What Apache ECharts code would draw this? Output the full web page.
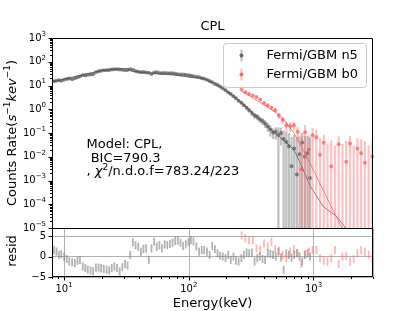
<!DOCTYPE html>
<html><head><meta charset="utf-8">
<script src="https://cdn.jsdelivr.net/npm/echarts@6/dist/echarts.min.js"></script>
<style>html,body{margin:0;padding:0;background:#fff}#c{width:415px;height:311px}</style>
</head><body><div id="c"></div>
<script>
// ---------- data ----------
const n5Energy = [8.3,8.7,9.1,9.5,10.0,10.5,11.0,11.6,12.2,12.8,13.4,14.1,14.8,15.5,16.3,17.1,18.0,18.9,19.8,20.8,21.9,23.0,24.1,25.3,26.6,27.9,29.3,30.8,32.3,33.9,35.6,37.4,39.3,41.3,43.3,45.5,47.8,50.2,52.7,55.3,58.1,61.0,64.0,67.2,70.6,74.1,77.8,81.7,85.8,90.1,94.6,99.3,104,109,115,121,127,133,140,147,154,162,170,178,187,197,207,217,228,239,251,264,277,291,305,321,337,354,371,390,409,430,451,474,498,523,549,576,605,635,667,700,735,772,811,851,894,938];
const n5Rate = [15.1,15.8,16.6,15.8,17.4,18.6,19.5,18.2,20.0,22.4,24.0,26.9,26.3,28.2,28.8,29.5,36.3,39.8,41.7,43.7,43.7,44.7,46.8,47.9,47.9,46.8,45.7,43.7,44.7,47.9,45.7,40.7,38.0,36.3,37.2,35.5,34.7,30.2,35.5,36.3,33.9,33.1,33.9,33.1,32.4,32.4,30.9,29.5,28.8,28.8,28.2,26.9,25.7,24.5,23.4,22.4,20.4,19.1,17.4,15.5,13.8,11.7,10.5,9.1,7.6,6.3,5.1,4.4,3.5,2.9,2.3,1.9,1.48,1.15,0.91,0.69,0.54,0.48,0.38,0.32,0.25,0.19,0.14,0.105,0.112,0.083,0.10,0.056,0.042,0.028,0.004,0.022,0.0018,0.0126,0.040,0.010,0.014,0.00126];
const n5Err = [0.8,0.8,0.8,0.8,0.9,0.9,0.9,0.9,1.0,1.0,1.1,1.2,1.2,1.3,1.3,1.3,1.4,1.5,1.5,1.5,1.5,1.5,1.5,1.5,1.5,1.5,1.5,1.5,1.5,1.5,1.5,1.4,1.4,1.4,1.4,1.4,1.4,1.3,1.3,1.3,1.3,1.3,1.3,1.3,1.3,1.3,1.3,1.3,1.3,1.3,1.3,1.3,1.2,1.2,1.1,1.1,1.0,1.0,0.9,0.9,0.8,0.75,0.7,0.65,0.6,0.55,0.5,0.45,0.4,0.36,0.32,0.28,0.25,0.22,0.19,0.17,0.15,0.13,0.11,0.1,0.09,0.08,0.07,0.05,0.06,0.09,0.07,0.07,0.07,0.07,0.065,0.06,0.065,0.06,0.06,0.065,0.06,0.065];
const n5Resid = [1.6,1.2,0.4,0.6,0,-0.6,-1.2,-1.4,-1.6,-1.0,-0.8,-2.4,-2.8,-3.2,-3.4,-3.6,-2.7,-2.7,-2.9,-3.05,-3.2,-3.4,-2.8,-2.4,-2.8,-3.6,-2.6,-1.85,-2.2,0.4,3.5,2.8,2.4,1.2,1.85,2.0,-0.8,2.0,3.6,2.4,2.8,2.0,3.0,2.8,3.1,3.4,3.8,3.9,3.4,2.6,3.0,3.5,4.0,3.7,2.5,1.2,1.6,1.6,1.2,0.4,2.6,1.8,0.8,0.2,0,-0.4,0.4,-0.8,0,-1.0,-1.2,-0.4,0.4,1.0,0.8,0.9,-1.2,-0.4,0,-0.6,-0.8,0.8,0.6,0.4,0,1.2,-0.2,-3.2,0.8,0.4,-0.3,0.4,0.8,0,-1.2,0.4,0.8,0];

const b0Energy = [265,284,304,326,349,374,401,429,460,493,528,566,606,650,696,746,799,856,917,983,1053,1128,1209,1295,1388,1487,1593,1707,1829,1960,2100,2250,2411,2583,2768,2966];
const b0Rate = [6.8,5.2,4.4,3.8,3.3,2.6,1.82,1.48,1.17,0.91,0.54,0.36,0.21,0.195,0.21,0.112,0.003,0.107,0.02,0.081,0.066,0.012,0.039,-0.01,0.004,-0.015,0.034,-0.005,0.0062,0.036,-0.01,0.022,0.014,0.0056,-0.01,0.01];
const b0Err = [0.5,0.45,0.4,0.35,0.3,0.3,0.25,0.22,0.2,0.17,0.15,0.13,0.1,0.09,0.08,0.07,0.07,0.11,0.06,0.085,0.07,0.05,0.045,0.045,0.045,0.045,0.04,0.04,0.04,0.04,0.04,0.04,0.04,0.04,0.04,0.04];
const b0Resid = [5.2,4.5,4.0,4.0,2.0,1.6,3.2,2.4,3.6,1.8,1.4,0.4,-0.4,1.2,1.8,0.8,-1.8,0.6,1.2,1.6,1.6,-0.4,-1.0,-1.2,-0.4,1.6,-1.8,0,0.2,-1.2,-0.6,0.8,1.6,1.2,0.4,-0.4];

const n5ModelEnergy = [8,10,12.5,15,20,25,30,33,34,40,50,60,80,100,130,160,190,230,280,340,400,500,575,700,786,946,1200,1540,2000];
const n5ModelRate = [14.5,18.5,24.5,31,42,49,51,50.5,41,36.5,32.5,30.5,27,22.5,19.8,12.3,7.3,3.5,1.45,0.55,0.26,0.09,0.05,0.019,0.0052,0.00055,0.00008,0.00003,0.000005];
const b0ModelEnergy = [265,310,400,500,600,700,830,1000,1200,1450,1690,1900];
const b0ModelRate = [5.9,3.5,1.55,0.72,0.29,0.095,0.019,0.0027,0.00038,0.00005,0.00001,0.000003];

const xMajorTicks = [10,100,1000];
const xMinorTicks = [8,9,20,30,40,50,60,70,80,90,200,300,400,500,600,700,800,900,2000,3000];
const yMajorExp = [-5,-4,-3,-2,-1,0,1,2,3];
const yMinorMant = [2,3,4,5,6,7,8,9];
const residTicks = [-5,0,5];

const labels = {
  title: 'CPL',
  n5: 'Fermi/GBM n5',
  b0: 'Fermi/GBM b0',
  xName: 'Energy(keV)',
  resid: 'resid'
};

// ---------- chart ----------
const FONT = 'DejaVu Sans';
const chart = echarts.init(document.getElementById('c'), null, {renderer:'canvas'});
const G0 = {left:52, top:38, width:321, height:190};
const G1 = {left:52, top:228, width:321, height:49};

function logLabel(v){
  const ex = Math.log10(v); const r = Math.round(ex);
  if (Math.abs(ex - r) > 1e-6) return '';
  const s = r < 0 ? '\u2212' + (-r) : String(r);
  return '{b|10}{s|' + s + '}';
}
const logRich = {
  b:{fontFamily:FONT, fontSize:10, lineHeight:15, color:'#000'},
  s:{fontFamily:FONT, fontSize:7, lineHeight:8, verticalAlign:'top', color:'#000'}
};

function errSeries(xi, yi, E, lo, hi, color, width, z){
  const data = E.map((e,i)=>[e, lo[i], hi[i]]);
  return {type:'custom', xAxisIndex:xi, yAxisIndex:yi, clip:true, silent:true, z,
    encode:{x:0, y:[1,2]}, data,
    renderItem(params, api){
      const a = api.coord([api.value(0), api.value(1)]);
      const b = api.coord([api.value(0), api.value(2)]);
      return {type:'line', shape:{x1:a[0],y1:a[1],x2:b[0],y2:b[1]}, style:{stroke:color, lineWidth:width}};
    }};
}
function tickSeries(xi, yi, data, dir){
  return {type:'custom', xAxisIndex:xi, yAxisIndex:yi, clip:false, silent:true, z:20,
    encode:{x:0, y:1}, data,
    renderItem(params, api){
      const p = api.coord([api.value(0), api.value(1)]);
      const L = api.value(2);
      let shape;
      if (dir === 'down') { const x = Math.round(p[0]) + 0.5; shape = {x1:x, y1:p[1], x2:x, y2:p[1]+L}; }
      else { const y = Math.round(p[1]) + 0.5; shape = {x1:p[0], y1:y, x2:p[0]-L, y2:y}; }
      return {type:'line', shape, style:{stroke:'#000', lineWidth:1}};
    }};
}

// bounds for error bars (log axis: lower bound kept positive so it clips at the axis floor)
const n5Lo = n5Rate.map((r,i)=>Math.max(r - n5Err[i], 1e-7));
const n5Hi = n5Rate.map((r,i)=>r + n5Err[i]);
const b0Lo = b0Rate.map((r,i)=>Math.max(r - b0Err[i], 1e-7));
const b0Hi = b0Rate.map((r,i)=>r + b0Err[i]);
const n5RLo = n5Resid.map(r=>r - 1), n5RHi = n5Resid.map(r=>r + 1);
const b0RLo = b0Resid.map(r=>r - 1), b0RHi = b0Resid.map(r=>r + 1);

const xTickData = xMajorTicks.map(v=>[v,-5,3.5]).concat(xMinorTicks.map(v=>[v,-5,2]));
const yTickData = [];
yMajorExp.forEach(ex=>{ yTickData.push([8, Math.pow(10,ex), 3.5]);
  if (ex < 3) yMinorMant.forEach(m=>yTickData.push([8, m*Math.pow(10,ex), 2])); });
const rTickData = residTicks.map(v=>[8, v, 3.5]);

const option = {
  animation:false,
  backgroundColor:'#fff',
  grid:[
    Object.assign({containLabel:false}, G0),
    Object.assign({containLabel:false}, G1)
  ],
  xAxis:[
    {gridIndex:0, type:'log', logBase:10, min:8, max:3000,
      axisLine:{show:false}, axisTick:{show:false}, axisLabel:{show:false}, splitLine:{show:false}},
    {gridIndex:1, type:'log', logBase:10, min:8, max:3000,
      axisLine:{show:false}, axisTick:{show:false}, splitLine:{show:true, lineStyle:{color:'#b0b0b0', width:1}},
      axisLabel:{show:true, margin:5, formatter:logLabel, rich:logRich}}
  ],
  yAxis:[
    {gridIndex:0, type:'log', logBase:10, min:1e-5, max:1e3,
      axisLine:{show:false}, axisTick:{show:false}, splitLine:{show:false},
      axisLabel:{show:true, margin:6, formatter:logLabel, rich:logRich}},
    {gridIndex:1, type:'value', min:-5, max:7, interval:5,
      axisLine:{show:false}, axisTick:{show:false},
      splitLine:{show:true, lineStyle:{color:'#b0b0b0', width:1}},
      axisLabel:{show:true, margin:6, fontFamily:FONT, fontSize:10, color:'#000',
        formatter:(v)=> (v===5?'5':v===0?'0':v===-5?'\u22125':'')}}
  ],
  series:[
    errSeries(0,0,n5Energy,n5Lo,n5Hi,'rgba(128,128,128,0.5)',2.2,2),
    {type:'line', xAxisIndex:0, yAxisIndex:0, showSymbol:false, silent:true, z:3, clip:true,
      data:n5ModelEnergy.map((e,i)=>[e,n5ModelRate[i]]), lineStyle:{color:'rgba(90,90,90,0.75)', width:1}},
    {type:'scatter', xAxisIndex:0, yAxisIndex:0, silent:true, z:4, symbol:'circle', symbolSize:4,
      data:n5Energy.map((e,i)=>[e,n5Rate[i]]).filter(d=>d[1]>0), itemStyle:{color:'rgba(70,70,70,0.75)'}},
    errSeries(0,0,b0Energy,b0Lo,b0Hi,'rgba(255,110,110,0.42)',2.2,5),
    {type:'line', xAxisIndex:0, yAxisIndex:0, showSymbol:false, silent:true, z:6, clip:true,
      data:b0ModelEnergy.map((e,i)=>[e,b0ModelRate[i]]), lineStyle:{color:'rgba(255,90,90,0.75)', width:1}},
    {type:'scatter', xAxisIndex:0, yAxisIndex:0, silent:true, z:7, symbol:'circle', symbolSize:4,
      data:b0Energy.map((e,i)=>[e,b0Rate[i]]).filter(d=>d[1]>0), itemStyle:{color:'rgba(255,70,70,0.75)'}},
    errSeries(1,1,n5Energy,n5RLo,n5RHi,'rgba(128,128,128,0.6)',1.8,3),
    errSeries(1,1,b0Energy,b0RLo,b0RHi,'rgba(255,110,110,0.5)',1.8,4),
    tickSeries(1,1,xTickData,'down'),
    tickSeries(0,0,yTickData,'left'),
    tickSeries(1,1,rTickData,'left')
  ],
  graphic:[
    {type:'rect', z:50, silent:true, shape:{x:G0.left+0.5, y:G0.top+0.5, width:G0.width-1, height:G0.height}, style:{fill:'none', stroke:'#000', lineWidth:1}},
    {type:'rect', z:50, silent:true, shape:{x:G1.left+0.5, y:G1.top+0.5, width:G1.width-1, height:G1.height-1}, style:{fill:'none', stroke:'#000', lineWidth:1}},
    {type:'text', z:50, x:212.5, y:27, style:{text:labels.title, font:'13px "DejaVu Sans"', fill:'#000', align:'center', verticalAlign:'middle'}},
    {type:'text', z:50, x:212.5, y:303.5, style:{text:labels.xName, font:'13px "DejaVu Sans"', fill:'#000', align:'center', verticalAlign:'middle'}},
    {type:'text', z:50, x:12.5, y:251, rotation:Math.PI/2, style:{text:labels.resid, font:'13px "DejaVu Sans"', fill:'#000', align:'center', verticalAlign:'middle'}},
    {type:'text', z:50, x:12.5, y:133, rotation:Math.PI/2, style:{
      text:'{n|Counts Rate(}{i|s}{u|\u22121}{i|kev}{u|\u22121}{n|)}', align:'center', verticalAlign:'middle',
      rich:{n:{fontFamily:FONT, fontSize:13, lineHeight:18, fill:'#000'},
            i:{fontFamily:FONT, fontSize:13, fontStyle:'italic', lineHeight:18, fill:'#000'},
            u:{fontFamily:FONT, fontSize:9, lineHeight:9, verticalAlign:'top', fill:'#000'}}}},
    {type:'text', z:50, x:86.5, y:145, style:{text:'Model: CPL,', font:'13px "DejaVu Sans"', fill:'#000', align:'left', verticalAlign:'middle'}},
    {type:'text', z:50, x:86.5, y:158.3, style:{text:' BIC=790.3', font:'13px "DejaVu Sans"', fill:'#000', align:'left', verticalAlign:'middle'}},
    {type:'text', z:50, x:86.5, y:171.7, style:{text:'{n|, }{i|\u03c7}{u|2}{n|/n.d.o.f=783.24/223}', align:'left', verticalAlign:'middle',
      rich:{n:{fontFamily:FONT, fontSize:13, lineHeight:18, fill:'#000'},
            i:{fontFamily:FONT, fontSize:13, fontStyle:'italic', lineHeight:18, fill:'#000'},
            u:{fontFamily:FONT, fontSize:9, lineHeight:9, verticalAlign:'top', fill:'#000'}}}},
    // legend
    {type:'rect', z:40, silent:true, shape:{x:223.5, y:43.5, width:143, height:44, r:3}, style:{fill:'rgba(255,255,255,0.8)', stroke:'#cccccc', lineWidth:1}},
    {type:'line', z:41, shape:{x1:241.5, y1:49.5, x2:241.5, y2:61.5}, style:{stroke:'rgba(128,128,128,0.5)', lineWidth:2.2}},
    {type:'circle', z:42, shape:{cx:241.5, cy:55.5, r:2}, style:{fill:'rgba(70,70,70,0.75)'}},
    {type:'line', z:41, shape:{x1:241.5, y1:68.5, x2:241.5, y2:80.5}, style:{stroke:'rgba(255,110,110,0.42)', lineWidth:2.2}},
    {type:'circle', z:42, shape:{cx:241.5, cy:74.5, r:2}, style:{fill:'rgba(255,70,70,0.75)'}},
    {type:'text', z:42, x:266.5, y:55.5, style:{text:labels.n5, font:'13px "DejaVu Sans"', fill:'#000', align:'left', verticalAlign:'middle'}},
    {type:'text', z:42, x:266.5, y:74.5, style:{text:labels.b0, font:'13px "DejaVu Sans"', fill:'#000', align:'left', verticalAlign:'middle'}}
  ]
};
chart.setOption(option);
</script>
</body></html>
